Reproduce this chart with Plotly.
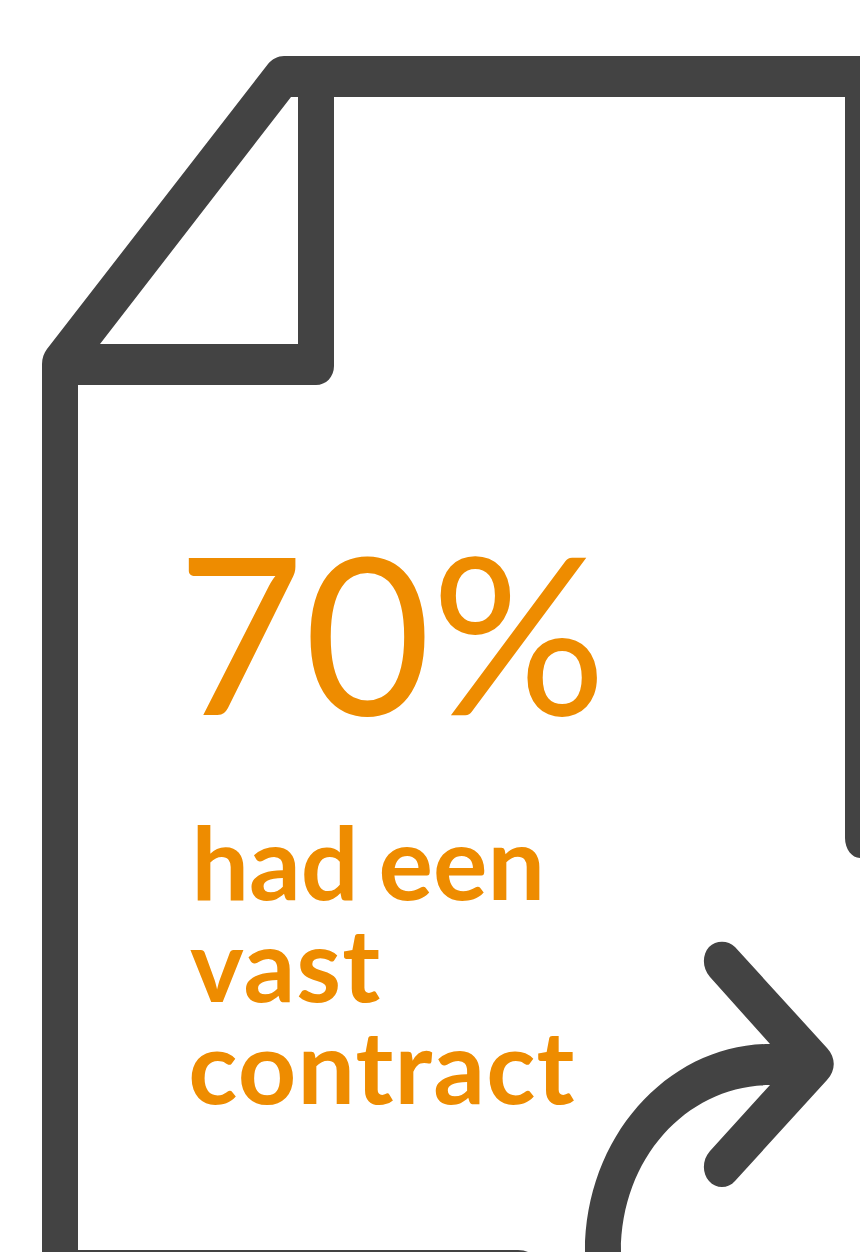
import plotly.graph_objects as go

W, H = 860, 1252
DARK = "#434343"
ORANGE = "#EE8C00"

headline = "70%"
caption_lines = ["had een", "vast", "contract"]

sheet_path = (
    "M 860 56 L 284 56 C 278 56 272 59 268 64 L 47 349 C 44 353 42 358 42 364 L 42 1252 L 78 1252 "
    "L 78 385 L 316 385 C 326 385 334 377 334 366 L 334 97 L 845 97 L 845 838 C 845 849 852 858 860 858 Z "
    "M 100 344 L 291 97 L 298 97 L 298 344 Z"
)
sheet_bottom = "M 78 1250 L 518 1250 Q 524 1250 528 1252 L 78 1252 Z"
arrow_path = (
    "M 585 1252 C 585 1135 670 1044 770 1044 L 710 977 C 702 968 702 955 709 947 "
    "C 716 940 728 940 735 947 L 827 1048 C 836 1058 836 1070 827 1080 L 735 1181 "
    "C 728 1189 716 1189 709 1181 C 702 1173 702 1160 710 1151 L 770 1085 "
    "C 690 1085 621 1155 621 1252 Z"
)

fig = go.Figure()
for p in (sheet_path, sheet_bottom, arrow_path):
    fig.add_shape(type="path", path=p, xref="x", yref="y",
                  fillcolor=DARK, line=dict(width=0), layer="below")

fig.add_annotation(x=175, y=630, text=headline, showarrow=False, xanchor="left", yanchor="middle",
                   font=dict(family="Lato", size=219, color=ORANGE, weight=400))
for label, x, y in zip(caption_lines, (186.5, 189.5, 190.5), (860, 962, 1064)):
    fig.add_annotation(x=x, y=y, text=label, showarrow=False, xanchor="left", yanchor="middle",
                       font=dict(family="Lato", size=102, color=ORANGE, weight=700))

fig.update_layout(
    width=W, height=H, margin=dict(l=0, r=0, t=0, b=0),
    paper_bgcolor="white", plot_bgcolor="white", showlegend=False,
    xaxis=dict(range=[0, W], visible=False, fixedrange=True),
    yaxis=dict(range=[H, 0], visible=False, fixedrange=True),
)
fig.write_html(
    "out.html",
    config=dict(displayModeBar=False),
    post_script=(
        "document.body.style.margin='0';document.documentElement.style.overflow='hidden';"
        "var sp={'had een':['0px','-5px'],'vast':['1px','0px'],'contract':['1.2px','0px']};"
        "document.querySelectorAll('.annotation-text').forEach(function(t){"
        "var v=sp[t.textContent];if(v){t.style.letterSpacing=v[0];t.style.wordSpacing=v[1];}});"
    ),
)
